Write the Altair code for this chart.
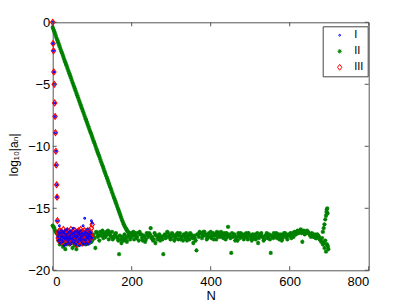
import altair as alt
import pandas as pd

# ---------------- data ----------------
x_ticks = [0, 200, 400, 600, 800]
y_ticks = [-20, -15, -10, -5, 0]
series_names = ["I", "II", "III"]
series_colors = ["#0000ff", "#008000", "#ff0000"]

# N = 0..12 : steep common onset of series I and III
onset = [0.0, -1.7, -2.3, -4.0, -5.0, -6.5, -7.6, -8.9, -10.4, -11.5, -13.1, -14.1, -16.0]

# N = 13..100 : round-off floor of series III
iii_floor = [
    -17.0, -17.4, -16.9, -17.6, -17.2, -16.8, -17.5, -17.1, -17.7, -16.9,
    -17.3, -17.0, -17.6, -17.2, -16.7, -17.4, -17.8, -17.1, -16.9, -17.3,
    -17.5, -17.0, -17.7, -17.2, -16.8, -17.4, -17.1, -17.6, -16.9, -17.3,
    -17.8, -17.0, -17.2, -16.7, -17.5, -17.3, -17.0, -17.6, -17.1, -16.9,
    -17.4, -17.7, -17.2, -16.8, -17.3, -17.5, -17.0, -17.9, -17.2, -16.9,
    -17.4, -17.1, -17.6, -16.8, -17.3, -17.0, -17.7, -17.2, -16.7, -17.5,
    -17.1, -17.4, -16.9, -17.8, -17.2, -17.0, -17.5, -16.8, -17.3, -17.6,
    -17.1, -16.9, -17.4, -17.0, -17.7, -17.2, -16.8, -17.5, -17.3, -17.0,
    -17.6, -17.1, -16.9, -17.4, -17.2, -16.6, -17.3, -16.3,
]

# N = 13..100 : round-off floor of series I
i_floor = [
    -17.3, -16.9, -17.6, -17.1, -16.4, -17.5, -17.8, -17.0, -17.3, -16.8,
    -17.6, -17.2, -16.9, -17.7, -17.4, -17.0, -18.0, -17.3, -16.8, -17.5,
    -17.1, -17.9, -17.2, -16.7, -17.4, -17.6, -17.0, -17.8, -17.3, -16.9,
    -17.5, -17.2, -17.9, -16.8, -17.4, -17.1, -17.7, -17.0, -17.5, -16.6,
    -17.3, -17.8, -17.1, -16.9, -17.6, -17.2, -17.9, -17.4, -16.8, -17.3,
    -17.0, -17.7, -17.2, -16.9, -17.5, -18.0, -17.1, -17.4, -16.8, -17.6,
    -17.3, -17.0, -17.8, -17.2, -16.4, -17.5, -17.1, -17.9, -15.8, -16.9,
    -17.6, -17.2, -17.8, -17.0, -17.4, -16.7, -17.3, -17.9, -17.1, -17.5,
    -17.2, -16.9, -17.7, -17.3, -17.0, -16.0, -17.4, -16.2,
]

# series II, slow linear decay, N = 0, 2, 4, ..., 192
ii_decline = [
    -0.40, -0.58, -0.75, -0.93, -1.11, -1.29, -1.46, -1.64, -1.82, -1.99,
    -2.17, -2.35, -2.52, -2.70, -2.88, -3.06, -3.23, -3.41, -3.59, -3.76,
    -3.94, -4.12, -4.29, -4.47, -4.65, -4.83, -5.00, -5.18, -5.36, -5.53,
    -5.71, -5.89, -6.06, -6.24, -6.42, -6.60, -6.77, -6.95, -7.13, -7.30,
    -7.48, -7.66, -7.83, -8.01, -8.19, -8.37, -8.54, -8.72, -8.90, -9.07,
    -9.25, -9.43, -9.60, -9.78, -9.96, -10.14, -10.31, -10.49, -10.67, -10.84,
    -11.02, -11.20, -11.37, -11.55, -11.73, -11.91, -12.08, -12.26, -12.44, -12.61,
    -12.79, -12.97, -13.14, -13.32, -13.50, -13.68, -13.85, -14.03, -14.21, -14.38,
    -14.56, -14.74, -14.91, -15.09, -15.27, -15.45, -15.62, -15.80, -15.98, -16.15,
    -16.30, -16.44, -16.56, -16.67, -16.77, -16.86, -16.94,
]

# series II, round-off floor, N = 0, 4, 8, ..., 696
ii_floor_a = [
    -16.4, -16.6, -16.9, -17.1, -17.5, -17.8, -17.6, -18.0, -18.3, -17.9,
    -17.7, -17.4, -17.8, -17.6, -18.0, -18.3, -17.9, -17.6, -17.8, -17.5,
    -17.7, -17.9, -17.6, -17.8, -17.4, -17.6, -17.3, -18.2, -17.0, -17.2,
    -16.9, -17.1, -17.4, -17.2, -16.9, -16.8, -17.0, -17.3, -17.5, -17.2,
    -17.0, -17.4, -18.7, -17.5, -17.3, -17.6, -17.4, -17.7, -17.2, -17.5,
    -17.0, -16.9, -17.2, -17.4, -17.0, -16.9, -17.1, -17.6, -17.3, -17.5,
    -17.2, -17.0, -16.6, -17.3, -17.5, -17.8, -17.2, -17.4, -17.6, -17.3,
    -18.7, -17.1, -17.3, -17.0, -17.2, -17.4, -17.1, -17.6, -17.3, -17.0,
    -17.2, -17.5, -17.3, -17.1, -17.4, -17.6, -17.2, -17.0, -17.3, -17.8,
    -17.4, -18.4, -17.1, -16.9, -17.0, -17.2, -16.9, -17.1, -17.4, -17.0,
    -16.9, -17.2, -17.5, -17.1, -16.9, -17.0, -17.3, -17.1, -17.4, -17.2,
    -17.0, -16.5, -17.2, -18.6, -17.3, -17.1, -17.4, -17.6, -17.2, -17.0,
    -17.3, -17.5, -17.1, -17.3, -17.0, -17.2, -17.6, -17.4, -17.1, -17.3,
    -17.8, -17.2, -17.0, -17.3, -17.5, -17.2, -17.4, -17.1, -18.6, -17.3,
    -17.0, -17.2, -17.4, -17.1, -17.3, -17.6, -17.2, -17.0, -17.3, -17.1,
    -17.2, -17.4, -17.0, -16.9, -17.1, -16.8, -16.9, -16.7, -17.7, -16.8,
    -16.9, -16.8, -17.0, -17.2, -17.0, -17.3, -17.1, -17.4, -17.2, -17.5,
    -17.7, -17.9, -18.2, -18.5, -18.0,
]

# series II, round-off floor, N = 2, 6, 10, ..., 698
ii_floor_b = [
    -16.5, -16.8, -17.0, -17.6, -17.9, -17.5, -18.1, -17.7, -17.8, -17.6,
    -17.9, -17.5, -18.2, -17.7, -17.6, -18.0, -17.8, -17.5, -17.9, -17.7,
    -17.5, -17.8, -17.6, -17.3, -17.7, -17.1, -17.4, -16.9, -17.3, -17.6,
    -17.2, -16.8, -17.0, -17.3, -17.1, -17.5, -17.2, -16.9, -17.4, -17.1,
    -17.3, -17.6, -17.2, -17.8, -17.4, -17.1, -17.6, -17.3, -17.0, -17.3,
    -17.2, -17.5, -17.0, -17.3, -17.6, -17.1, -17.4, -17.2, -17.7, -17.0,
    -17.3, -17.1, -17.4, -17.6, -17.0, -17.2, -17.5, -17.1, -17.3, -17.5,
    -17.2, -17.4, -16.9, -17.3, -17.5, -17.0, -17.2, -17.4, -17.1, -17.5,
    -17.0, -17.3, -17.6, -17.2, -17.0, -17.3, -17.5, -17.1, -17.4, -17.2,
    -17.6, -17.1, -17.3, -17.0, -17.4, -16.9, -17.2, -17.5, -17.1, -17.3,
    -17.4, -17.0, -17.2, -17.5, -17.3, -17.1, -16.9, -17.3, -17.0, -17.5,
    -17.3, -17.1, -17.4, -17.0, -17.2, -17.6, -17.3, -17.0, -17.4, -17.2,
    -17.1, -17.3, -17.0, -17.5, -17.2, -17.4, -17.1, -17.3, -17.5, -17.0,
    -17.4, -17.1, -17.3, -17.6, -17.2, -17.0, -17.3, -17.5, -17.2, -17.4,
    -17.3, -17.0, -17.2, -17.5, -17.1, -17.4, -17.0, -17.3, -17.5, -17.2,
    -17.0, -17.2, -17.3, -17.1, -16.9, -17.0, -16.8, -17.0, -16.9, -17.1,
    -17.0, -16.9, -17.1, -17.3, -17.1, -17.2, -17.4, -17.1, -17.3, -17.6,
    -17.4, -17.8, -17.6, -17.9, -18.3,
]

# series II, upturn at the very end
ii_tail_n = [684, 686, 688, 690, 692, 693, 694, 695, 696, 697]
ii_tail_y = [-16.9, -16.6, -16.3, -15.9, -15.6, -15.3, -15.1, -15.0, -15.4, -18.2]

# ---------------- table ----------------
rows = []
for k, v in enumerate(ii_decline):
    rows.append({"N": 2 * k, "v": v, "s": "II"})
for k, v in enumerate(ii_floor_a):
    rows.append({"N": 4 * k, "v": v, "s": "II"})
for k, v in enumerate(ii_floor_b):
    rows.append({"N": 4 * k + 2, "v": v, "s": "II"})
for n, v in zip(ii_tail_n, ii_tail_y):
    rows.append({"N": n, "v": v, "s": "II"})
for k, v in enumerate(onset + iii_floor):
    rows.append({"N": k, "v": v, "s": "III"})
for k, v in enumerate(onset + i_floor):
    rows.append({"N": k, "v": v, "s": "I"})
df = pd.DataFrame(rows)

W, H = 316, 248
FONT = "Liberation Sans, Arial, Helvetica, DejaVu Sans, sans-serif"
AX = "#555555"

xscale = alt.Scale(domain=[0, 800], nice=False, zero=False)
yscale = alt.Scale(domain=[-20, 0], nice=False, zero=False)

xaxis = alt.Axis(values=x_ticks, title="N", grid=False, ticks=False, domain=False,
                 labelFont=FONT, labelFontSize=13, labelColor="black", labelPadding=5,
                 titleFont=FONT, titleFontSize=13, titleFontWeight="normal",
                 titleColor="black", titlePadding=1)
yaxis = alt.Axis(values=y_ticks, title="log₁₀|aₙ|", grid=False, ticks=False, domain=False,
                 labelFont=FONT, labelFontSize=13, labelColor="black", labelPadding=3,
                 titleFont=FONT, titleFontSize=12, titleFontWeight="normal",
                 titleColor="black", titleX=-39, titleY=132, titleAlign="center",
                 titleBaseline="middle", titleAngle=270)

asterisk = "M-1,0L1,0M0,-1L0,1M-0.7,-0.7L0.7,0.7M-0.7,0.7L0.7,-0.7"
diamond = "M0,-1L0.75,0L0,1L-0.75,0Z"

legend = alt.Legend(title=None, orient="none", legendX=270, legendY=4,
                    fillColor="white", strokeColor="#444444", padding=3.5,
                    labelFont=FONT, labelFontSize=11, labelColor="black",
                    rowPadding=4, symbolOffset=8, labelOffset=9, symbolStrokeWidth=1)

points = alt.Chart(df).mark_point(filled=False, strokeWidth=1.1, opacity=1).encode(
    x=alt.X("N:Q", scale=xscale, axis=xaxis),
    y=alt.Y("v:Q", scale=yscale, axis=yaxis),
    color=alt.Color("s:N", scale=alt.Scale(domain=series_names, range=series_colors), legend=legend),
    shape=alt.Shape("s:N", scale=alt.Scale(domain=series_names, range=["circle", asterisk, diamond]), legend=legend),
    size=alt.Size("s:N", scale=alt.Scale(domain=series_names, range=[3, 34, 40]), legend=legend),
)

tx = pd.DataFrame({"t": x_ticks})
ty = pd.DataFrame({"t": y_ticks})
tick_len = 4
bottom_ticks = alt.Chart(tx).mark_rule(color=AX, strokeWidth=1).encode(
    x=alt.X("t:Q", scale=xscale, axis=xaxis), y=alt.value(H), y2=alt.value(H - tick_len))
top_ticks = alt.Chart(tx).mark_rule(color=AX, strokeWidth=1).encode(
    x=alt.X("t:Q", scale=xscale, axis=xaxis), y=alt.value(0), y2=alt.value(tick_len))
left_ticks = alt.Chart(ty).mark_rule(color=AX, strokeWidth=1).encode(
    y=alt.Y("t:Q", scale=yscale, axis=yaxis), x=alt.value(0), x2=alt.value(tick_len))
right_ticks = alt.Chart(ty).mark_rule(color=AX, strokeWidth=1).encode(
    y=alt.Y("t:Q", scale=yscale, axis=yaxis), x=alt.value(W), x2=alt.value(W - tick_len))

chart = alt.layer(points, bottom_ticks, top_ticks, left_ticks, right_ticks).properties(
    width=W, height=H,
    autosize=alt.AutoSizeParams(type="none"),
    padding={"left": 44.7, "top": 14.3, "right": 30, "bottom": 36},
    background="white",
).configure_view(stroke=AX, strokeWidth=1).configure_axis(
    titleColor="black", labelColor="black"
)

chart.save("out.html", embed_options={"renderer": "svg", "actions": False})
